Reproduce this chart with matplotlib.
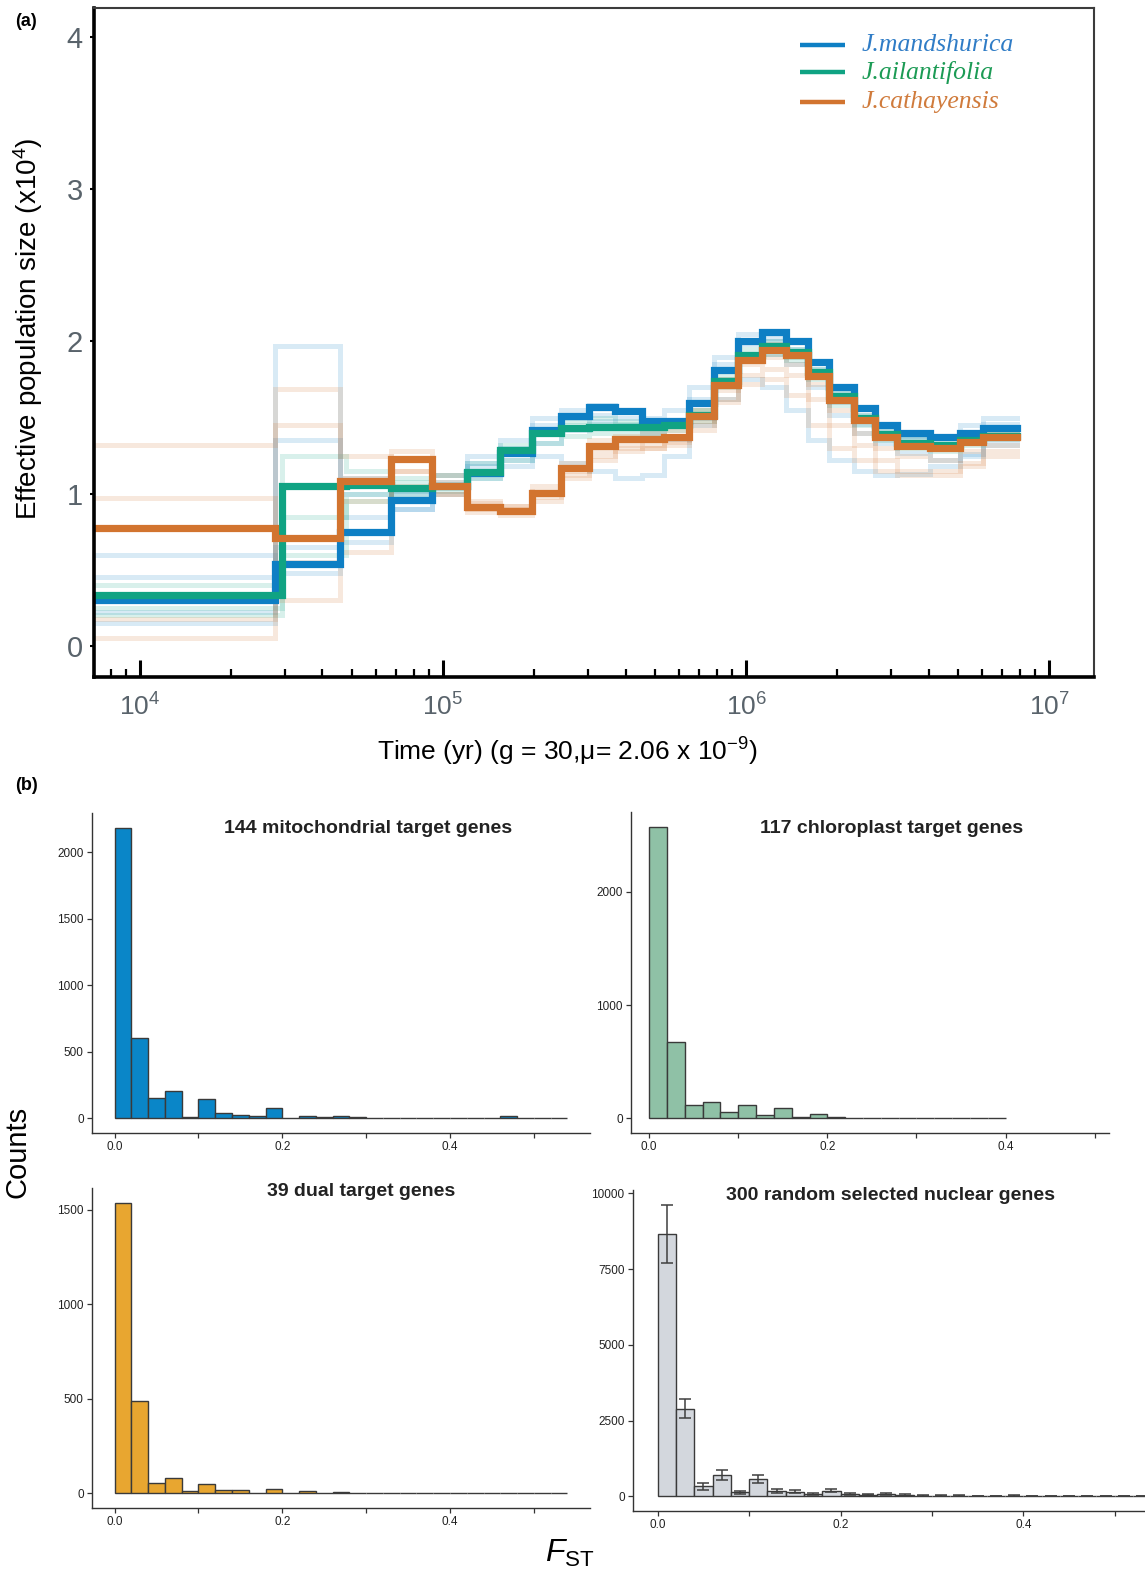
import numpy as np
import matplotlib
matplotlib.use('Agg')
import matplotlib.pyplot as plt
from matplotlib.ticker import LogLocator, NullFormatter, FixedLocator, FixedFormatter

plt.rcParams['font.family'] = ['Liberation Sans', 'DejaVu Sans']
plt.rcParams['mathtext.fontset'] = 'custom'
plt.rcParams['mathtext.rm'] = 'Liberation Sans'
plt.rcParams['mathtext.it'] = 'Liberation Sans:italic'
plt.rcParams['mathtext.bf'] = 'Liberation Sans:bold'

# ---------------- Panel (a) data: PSMC step curves ----------------
species = ['J.mandshurica', 'J.ailantifolia', 'J.cathayensis']

time_edges = [6900, 27900, 45700, 67300, 91600, 119700, 154200, 196300, 245500,
              302000, 368100, 452900, 535800, 645700, 785200, 939700, 1132400,
              1349000, 1603200, 1879300, 2264600, 2654600, 3155000, 4036500,
              5081600, 6039500, 7834300]
time_edges_green = [6900, 29500, 48000, 67300, 91600, 119700, 154200, 196300, 245500,
                    302000, 368100, 452900, 535800, 645700, 785200, 939700, 1132400,
                    1349000, 1603200, 1879300, 2264600, 2654600, 3155000, 4036500,
                    5081600, 6039500, 7834300]

ne_mandshurica = [0.30, 0.536, 0.748, 0.956, 1.05, 1.135, 1.266, 1.419, 1.507, 1.572,
                  1.54, 1.48, 1.48, 1.595, 1.813, 2.0, 2.065, 2.0, 1.868, 1.704,
                  1.562, 1.452, 1.397, 1.375, 1.397, 1.43]
ne_ailantifolia = [0.333, 1.048, 1.06, 1.04, 1.05, 1.145, 1.288, 1.397, 1.43, 1.44,
                   1.44, 1.44, 1.45, 1.52, 1.74, 1.91, 1.97, 1.93, 1.80, 1.64,
                   1.50, 1.39, 1.33, 1.32, 1.35, 1.38]
ne_cathayensis = [0.775, 0.709, 1.081, 1.225, 1.05, 0.912, 0.889, 1.007, 1.167, 1.31,
                  1.358, 1.36, 1.375, 1.507, 1.715, 1.879, 1.945, 1.912, 1.77, 1.616,
                  1.485, 1.375, 1.31, 1.30, 1.342, 1.375]

# bootstrap replicates (faint)
boot_mandshurica = [
    [0.22, 1.97, 1.00, 1.02, 1.05, 1.18, 1.30, 1.45, 1.50, 1.52, 1.50, 1.46, 1.47, 1.62, 1.85, 1.98, 2.02, 1.95, 1.82, 1.66, 1.52, 1.42, 1.38, 1.37, 1.40, 1.46],
    [0.45, 0.65, 0.85, 1.00, 1.08, 1.20, 1.22, 1.33, 1.42, 1.48, 1.45, 1.40, 1.36, 1.50, 1.72, 1.90, 1.92, 1.85, 1.70, 1.52, 1.40, 1.33, 1.27, 1.22, 1.26, 1.32],
    [0.15, 1.35, 1.10, 0.90, 1.12, 1.25, 1.35, 1.50, 1.55, 1.58, 1.55, 1.50, 1.55, 1.70, 1.90, 2.05, 2.00, 1.92, 1.78, 1.60, 1.46, 1.40, 1.36, 1.38, 1.45, 1.50],
    [0.60, 0.48, 0.68, 0.90, 1.00, 1.10, 1.18, 1.25, 1.20, 1.15, 1.10, 1.12, 1.25, 1.45, 1.62, 1.75, 1.70, 1.55, 1.35, 1.22, 1.15, 1.12, 1.13, 1.18, 1.25, 1.35],
]
boot_ailantifolia = [
    [0.25, 1.25, 1.15, 1.10, 1.12, 1.20, 1.32, 1.40, 1.45, 1.46, 1.46, 1.45, 1.47, 1.55, 1.78, 1.95, 2.00, 1.95, 1.82, 1.66, 1.52, 1.42, 1.36, 1.35, 1.38, 1.42],
    [0.40, 0.85, 0.95, 1.00, 1.02, 1.10, 1.22, 1.33, 1.38, 1.40, 1.40, 1.40, 1.42, 1.48, 1.70, 1.88, 1.92, 1.88, 1.75, 1.58, 1.45, 1.35, 1.30, 1.28, 1.32, 1.36],
    [0.20, 0.60, 1.00, 1.08, 1.05, 1.15, 1.28, 1.42, 1.48, 1.50, 1.48, 1.45, 1.46, 1.55, 1.75, 1.92, 1.96, 1.90, 1.78, 1.62, 1.48, 1.38, 1.32, 1.30, 1.34, 1.40],
]
boot_cathayensis = [
    [1.32, 1.69, 1.10, 1.28, 1.00, 0.90, 0.92, 1.05, 1.15, 1.25, 1.30, 1.32, 1.35, 1.45, 1.62, 1.72, 1.75, 1.65, 1.45, 1.30, 1.22, 1.15, 1.12, 1.12, 1.18, 1.25],
    [0.05, 1.45, 1.25, 1.15, 1.08, 0.88, 0.86, 0.95, 1.12, 1.28, 1.32, 1.30, 1.34, 1.48, 1.68, 1.85, 1.90, 1.85, 1.72, 1.55, 1.40, 1.30, 1.25, 1.22, 1.28, 1.32],
    [0.97, 0.55, 0.62, 1.05, 1.12, 0.95, 0.92, 1.02, 1.20, 1.35, 1.38, 1.40, 1.42, 1.55, 1.75, 1.92, 1.98, 1.92, 1.78, 1.62, 1.50, 1.38, 1.33, 1.32, 1.36, 1.40],
    [0.18, 0.30, 0.95, 1.15, 1.00, 0.94, 0.90, 0.98, 1.10, 1.22, 1.28, 1.30, 1.32, 1.42, 1.60, 1.78, 1.82, 1.78, 1.62, 1.45, 1.32, 1.22, 1.15, 1.15, 1.20, 1.28],
]

# ---------------- Panel (b) data: FST histograms ----------------
fst_bin_width = 0.02
counts_mito = [2184, 605, 157, 206, 12, 144, 40, 25, 15, 80, 5, 22, 10, 20, 10, 2, 2,
               1, 5, 1, 2, 3, 1, 22, 1, 0, 3]
counts_chloro = [2574, 674, 115, 144, 56, 115, 26, 88, 9, 41, 12, 3, 3, 1, 1, 1, 3, 1, 0, 6]
counts_dual = [1537, 488, 54, 81, 11, 49, 18, 19, 2, 23, 0, 12, 3, 7, 0, 1, 5, 0, 1,
               0, 0, 0, 1, 0, 0, 0, 1]
counts_nuclear = [8670, 2900, 330, 710, 130, 580, 190, 160, 90, 190, 70, 60, 70, 50,
                  25, 20, 20, 15, 10, 25, 10, 8, 6, 5, 5, 4, 4]
err_nuclear = [960, 320, 120, 160, 45, 130, 70, 60, 35, 60, 35, 30, 35, 30, 15, 12,
               12, 10, 8, 20, 8, 6, 5, 4, 4, 3, 3]

titles = ['144 mitochondrial target genes', '117 chloroplast target genes',
          '39 dual target genes', '300 random selected nuclear genes']

# ---------------- figure ----------------
W, H = 1145, 1578
fig = plt.figure(figsize=(W / 100, H / 100), dpi=100)
fig.patch.set_facecolor('white')


def ax_px(x0, y0, x1, y1):
    return fig.add_axes([x0 / W, 1 - y1 / H, (x1 - x0) / W, (y1 - y0) / H])


BLUE = '#0e7fc4'
GREEN = '#10a383'
ORANGE = '#d2742f'
GRAYTXT = '#59636b'

ax = ax_px(94, 8, 1094, 677)
ax.set_xscale('log')
ax.set_xlim(7050, 1.406e7)
ax.set_ylim(-0.204, 4.19)


def step(edges, vals, **kw):
    ax.plot(edges, list(vals) + [vals[-1]], drawstyle='steps-post',
            solid_joinstyle='miter', **kw)


for vals in boot_mandshurica:
    step(time_edges, vals, color=BLUE, alpha=0.16, lw=3.6)
for vals in boot_ailantifolia:
    step(time_edges_green, vals, color=GREEN, alpha=0.16, lw=3.6)
for vals in boot_cathayensis:
    step(time_edges, vals, color=ORANGE, alpha=0.16, lw=3.6)

step(time_edges, ne_mandshurica, color=BLUE, lw=5.2)
step(time_edges_green, ne_ailantifolia, color=GREEN, lw=5.2)
step(time_edges, ne_cathayensis, color=ORANGE, lw=5.2)

for sp in ['left', 'bottom']:
    ax.spines[sp].set_linewidth(2.6)
    ax.spines[sp].set_color('black')
for sp in ['top', 'right']:
    ax.spines[sp].set_linewidth(1.5)
    ax.spines[sp].set_color('#3c3c3c')

ax.xaxis.set_major_locator(LogLocator(base=10, numticks=12))
ax.xaxis.set_minor_locator(LogLocator(base=10, subs=np.arange(2, 10), numticks=12))
ax.xaxis.set_minor_formatter(NullFormatter())
ax.tick_params(axis='x', which='major', direction='in', length=12, width=2.2,
               labelsize=19, labelcolor=GRAYTXT, pad=12)
ax.tick_params(axis='x', which='minor', direction='in', length=6, width=1.6)
ax.set_yticks([0, 1, 2, 3, 4])
ax.tick_params(axis='y', which='major', direction='out', length=3, width=1.5,
               labelsize=21, labelcolor=GRAYTXT, pad=5)

# legend
leg_y = [0.945, 0.904, 0.859]
leg_cols = [BLUE, GREEN, ORANGE]
leg_txt = ['#2f7cc6', '#1c9b55', '#d07b3c']
for name, yy, c, tc in zip(species, leg_y, leg_cols, leg_txt):
    ax.plot([0.706, 0.751], [yy, yy], transform=ax.transAxes, color=c, lw=3.2,
            solid_capstyle='butt')
    ax.text(0.768, yy, name, transform=ax.transAxes, color=tc, fontsize=18.5,
            family=['Liberation Serif', 'DejaVu Serif'], style='italic',
            va='center', ha='left')

fig.text(28 / W, 1 - 329 / H, 'Effective population size (x10$^4$)', rotation=90,
         ha='center', va='center', fontsize=20)
fig.text(567 / W, 1 - 752 / H, 'Time (yr) (g = 30,μ= 2.06 x 10$^{-9}$)',
         ha='center', va='center', fontsize=19)
fig.text(26 / W, 1 - 22 / H, '(a)', ha='center', va='center', fontsize=13,
         fontweight='bold')
fig.text(26 / W, 1 - 786 / H, '(b)', ha='center', va='center', fontsize=13,
         fontweight='bold')

# ---------------- Panel (b) ----------------
EDGE = '#3a3a3a'


def hist_ax(box, counts, color, xlim, yticks, title, title_xy, err=None):
    a = ax_px(*box)
    n = len(counts)
    left = fst_bin_width * np.arange(n)
    a.bar(left, counts, width=fst_bin_width, align='edge', color=color,
          edgecolor=EDGE, linewidth=1.0, zorder=2)
    top = max(counts)
    if err is not None:
        a.errorbar(left + fst_bin_width / 2, counts, yerr=err, fmt='none',
                   ecolor='#3f3f3f', elinewidth=1.1, capsize=4, capthick=1.1,
                   zorder=3)
        top = max(c + e for c, e in zip(counts, err))
    a.set_xlim(*xlim)
    a.set_ylim(-0.05 * top, 1.05 * top)
    for sp in ['top', 'right']:
        a.spines[sp].set_visible(False)
    for sp in ['left', 'bottom']:
        a.spines[sp].set_color('#333333')
        a.spines[sp].set_linewidth(1.0)
    xt = [0.0, 0.1, 0.2, 0.3, 0.4, 0.5]
    a.set_xticks(xt)
    a.set_xticklabels(['0.0', '', '0.2', '', '0.4', ''])
    a.set_yticks(yticks)
    a.set_yticklabels([str(v) for v in yticks])
    a.tick_params(axis='both', direction='out', length=3.5, width=0.9,
                  color='#333333', labelsize=8.5, labelcolor='#222222', pad=2.5)
    fig.text(title_xy[0] / W, 1 - title_xy[1] / H, title, ha='center',
             va='center', fontsize=14, fontweight='bold', color='#222222')
    return a


hist_ax((92, 813, 590, 1133), counts_mito, '#0a86c8', (-0.027, 0.567),
        [0, 500, 1000, 1500, 2000], titles[0], (368, 828))
hist_ax((631, 812, 1109, 1133), counts_chloro, '#8fc1a6', (-0.0203, 0.516),
        [0, 1000, 2000], titles[1], (892, 828))
hist_ax((92, 1188, 590, 1508), counts_dual, '#e8a630', (-0.027, 0.567),
        [0, 500, 1000, 1500], titles[2], (361, 1191))
hist_ax((633, 1190, 1176, 1511), counts_nuclear, '#d3d7dd', (-0.027, 0.567),
        [0, 2500, 5000, 7500, 10000], titles[3], (891, 1195), err=err_nuclear)

fig.text(18 / W, 1 - 1152 / H, 'Counts', rotation=90, ha='center', va='center',
         fontsize=21)
fig.text(570 / W, 1 - 1553 / H, r'$F_{\mathrm{ST}}$', ha='center', va='center',
         fontsize=23)

fig.savefig('out.png', dpi=100, facecolor='white')
